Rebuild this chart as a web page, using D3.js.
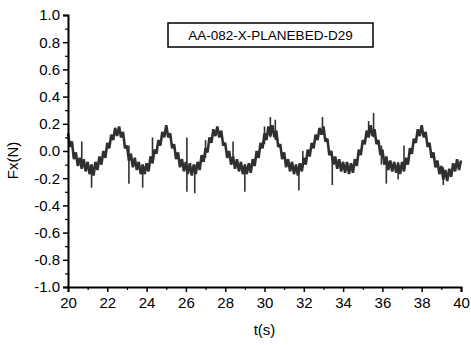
<!DOCTYPE html>
<html>
<head>
<meta charset="utf-8">
<script src="https://cdn.jsdelivr.net/npm/d3@7"></script>
<style>
    body { margin: 0; background: #fff; }
    text { font-family: "Liberation Sans", Arial, sans-serif; fill: #000; }
</style>
</head>
<body>
<svg id="chart"></svg>
<script>
const legendLabel = 'AA-082-X-PLANEBED-D29';
const xTicks = [20, 22, 24, 26, 28, 30, 32, 34, 36, 38, 40];
const yTicks = [-1.0, -0.8, -0.6, -0.4, -0.2, 0.0, 0.2, 0.4, 0.6, 0.8, 1.0];

// Fx samples every 0.1 s from t = 20 s
const tStart = 20;
const tStep = 0.1;
const fx = [
    0.13, 0.03, 0.07, -0.06, -0.01, -0.11, -0.05, -0.13, -0.06, -0.15,
    -0.08, -0.17, -0.10, -0.18, -0.08, -0.14, -0.04, -0.10, 0.00, -0.05,
    0.06, 0.02, 0.12, 0.08, 0.17, 0.11, 0.18, 0.10, 0.14, 0.02,
    0.04, -0.07, -0.02, -0.12, -0.05, -0.14, -0.08, -0.17, -0.10, -0.17,
    -0.09, -0.15, -0.04, -0.09, 0.01, -0.02, 0.08, 0.04, 0.14, 0.10,
    0.19, 0.10, 0.13, 0.02, 0.05, -0.06, -0.01, -0.12, -0.06, -0.15,
    -0.08, -0.17, -0.09, -0.18, -0.10, -0.17, -0.08, -0.14, -0.03, -0.08,
    0.02, -0.01, 0.10, 0.06, 0.16, 0.11, 0.18, 0.10, 0.15, 0.04,
    0.06, -0.05, 0.00, -0.10, -0.04, -0.13, -0.06, -0.15, -0.08, -0.17,
    -0.10, -0.17, -0.09, -0.16, -0.06, -0.11, 0.00, -0.05, 0.06, 0.02,
    0.13, 0.08, 0.18, 0.11, 0.19, 0.10, 0.15, 0.03, 0.05, -0.06,
    -0.01, -0.12, -0.06, -0.15, -0.08, -0.17, -0.10, -0.18, -0.09, -0.15,
    -0.05, -0.10, 0.01, -0.04, 0.06, 0.02, 0.12, 0.08, 0.17, 0.12,
    0.18, 0.07, 0.09, -0.03, 0.00, -0.10, -0.04, -0.13, -0.06, -0.15,
    -0.08, -0.16, -0.08, -0.17, -0.09, -0.16, -0.06, -0.11, 0.01, -0.03,
    0.08, 0.05, 0.15, 0.10, 0.19, 0.11, 0.16, 0.05, 0.08, -0.03,
    0.01, -0.10, -0.04, -0.14, -0.07, -0.15, -0.08, -0.16, -0.09, -0.17,
    -0.08, -0.15, -0.05, -0.10, 0.02, -0.02, 0.09, 0.06, 0.16, 0.11,
    0.19, 0.10, 0.14, 0.03, 0.06, -0.05, -0.01, -0.12, -0.07, -0.17,
    -0.11, -0.21, -0.14, -0.22, -0.13, -0.19, -0.09, -0.15, -0.06, -0.14,
    -0.07,
];

// isolated spikes: [t, low, high]
const spikes = [
    [20.7, -0.08, 0.07], [21.2, -0.27, -0.10], [23.1, -0.24, 0.04],
    [23.8, -0.27, -0.12], [24.3, -0.09, 0.10], [26.05, -0.30, 0.10],
    [26.45, -0.31, -0.10], [27.0, -0.05, 0.08], [28.4, -0.06, 0.07],
    [29.0, -0.30, -0.10], [30.0, 0.05, 0.18], [30.3, 0.10, 0.25],
    [30.55, 0.08, 0.23], [31.75, -0.29, -0.10], [31.95, -0.12, 0.00],
    [32.95, 0.12, 0.25], [33.45, -0.25, -0.05], [35.3, 0.10, 0.22],
    [35.55, 0.10, 0.28], [35.95, -0.10, 0.04], [36.2, -0.24, -0.08],
    [36.8, -0.21, -0.08], [37.1, -0.10, 0.04], [39.1, -0.25, -0.12],
];

const width = 471;
const height = 345;
const margin = { top: 15, right: 10, bottom: 58, left: 68 };

const svg = d3.select('#chart')
    .attr('width', width)
    .attr('height', height);

const x = d3.scaleLinear()
    .domain([20, 40])
    .range([margin.left, width - margin.right]);

const y = d3.scaleLinear()
    .domain([-1, 1])
    .range([height - margin.bottom, margin.top]);

const series = fx.map((v, i) => ({ t: tStart + i * tStep, v }));

const line = d3.line()
    .x(d => x(d.t))
    .y(d => y(d.v));

svg.append('path')
    .datum(series)
    .attr('d', line)
    .attr('fill', 'none')
    .attr('stroke', '#303030')
    .attr('stroke-width', 2.6)
    .attr('stroke-linejoin', 'bevel');

svg.append('g')
    .selectAll('line')
    .data(spikes)
    .join('line')
    .attr('x1', d => x(d[0]))
    .attr('x2', d => x(d[0]))
    .attr('y1', d => y(d[1]))
    .attr('y2', d => y(d[2]))
    .attr('stroke', '#303030')
    .attr('stroke-width', 1.6);

// axes
const fmtY = d => d3.format('.1f')(d).replace('\u2212', '-');

const xAxis = d3.axisBottom(x)
    .tickValues(xTicks)
    .tickFormat(d3.format('d'))
    .tickSize(5)
    .tickPadding(5);

const xMinor = d3.axisBottom(x)
    .tickValues(d3.range(21, 40, 2))
    .tickFormat('')
    .tickSize(3);

const yAxis = d3.axisLeft(y)
    .tickValues(yTicks)
    .tickFormat(fmtY)
    .tickSize(5)
    .tickPadding(3);

const yMinor = d3.axisLeft(y)
    .tickValues(d3.range(-0.9, 1.0, 0.2))
    .tickFormat('')
    .tickSize(3);

const styleAxis = g => {
    g.select('.domain').attr('stroke', '#000').attr('stroke-width', 2);
    g.selectAll('.tick line').attr('stroke', '#000').attr('stroke-width', 1.5);
    g.selectAll('.tick text')
        .style('font-family', '"Liberation Sans", Arial, sans-serif')
        .style('font-size', '15px')
        .attr('fill', '#000');
};

svg.append('g')
    .attr('transform', `translate(0,${height - margin.bottom})`)
    .call(xMinor)
    .call(g => g.select('.domain').remove())
    .call(g => g.selectAll('.tick line').attr('stroke', '#000').attr('stroke-width', 1.2));

svg.append('g')
    .attr('transform', `translate(${margin.left},0)`)
    .call(yMinor)
    .call(g => g.select('.domain').remove())
    .call(g => g.selectAll('.tick line').attr('stroke', '#000').attr('stroke-width', 1.2));

svg.append('g')
    .attr('transform', `translate(0,${height - margin.bottom})`)
    .call(xAxis)
    .call(styleAxis);

svg.append('g')
    .attr('transform', `translate(${margin.left},0)`)
    .call(yAxis)
    .call(styleAxis);

// axis titles
svg.append('text')
    .attr('x', x(30))
    .attr('y', 335)
    .attr('text-anchor', 'middle')
    .style('font-size', '15px')
    .text('t(s)');

svg.append('text')
    .attr('transform', `translate(18,${y(-0.07)}) rotate(-90)`)
    .attr('text-anchor', 'middle')
    .style('font-size', '15px')
    .text('Fx(N)');

// legend box
const legend = svg.append('g')
    .attr('transform', 'translate(168,23)');

legend.append('rect')
    .attr('width', 205)
    .attr('height', 24)
    .attr('fill', '#fff')
    .attr('stroke', '#000')
    .attr('stroke-width', 1.5);

legend.append('text')
    .attr('x', 102.5)
    .attr('y', 17)
    .attr('text-anchor', 'middle')
    .style('font-size', '13.5px')
    .text(legendLabel);
</script>
</body>
</html>
